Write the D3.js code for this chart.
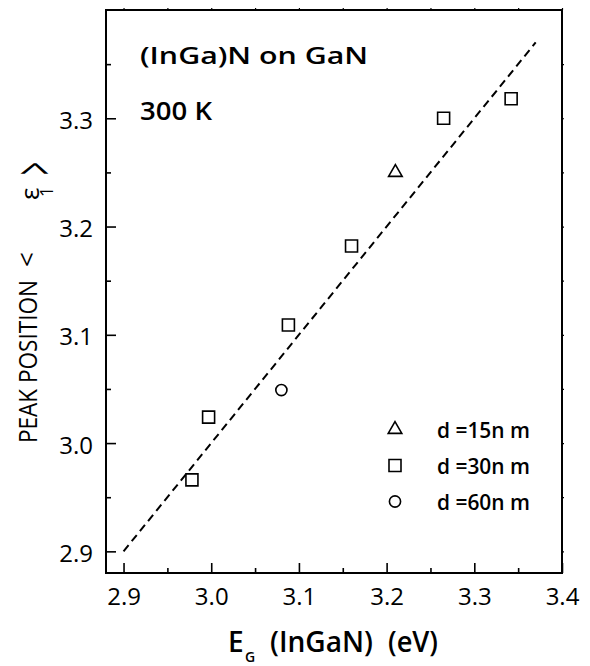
<!DOCTYPE html>
<html>
<head>
<meta charset="utf-8">
<script src="https://cdn.jsdelivr.net/npm/d3@7"></script>
<style>
  html, body { margin: 0; padding: 0; background: #fff; }
  svg { display: block; }
  text { font-family: "Open Sans", "Noto Sans", sans-serif; fill: #000; }
</style>
</head>
<body>
<svg id="chart" width="590" height="666"></svg>
<script>
// ---- data ----
const xTickValues = [2.9, 3.0, 3.1, 3.2, 3.3, 3.4];
const yTickValues = [2.9, 3.0, 3.1, 3.2, 3.3];
const xMinorValues = [2.95, 3.05, 3.15, 3.25, 3.35];
const yMinorValues = [2.95, 3.05, 3.15, 3.25, 3.35];

const d15X = [3.210];
const d15Y = [3.250];
const d30X = [2.978, 2.997, 3.088, 3.160, 3.265, 3.342];
const d30Y = [2.966, 3.024, 3.109, 3.182, 3.300, 3.318];
const d60X = [3.080];
const d60Y = [3.049];

const fitX = [2.9, 3.37];
const fitY = [2.9, 3.37];

const legendLabels = ["d =15n m", "d =30n m", "d =60n m"];
const legendSymbols = ["triangle", "square", "circle"];

// ---- layout ----
const svg = d3.select("#chart");
const L = 106, R = 562, T = 10, B = 573;
const x = d3.scaleLinear().domain([2.88, 3.4]).range([L, R]);
const y = d3.scaleLinear().domain([2.88, 3.4]).range([B, T]);
const fmt = d3.format(".1f");

const symGen = {
  triangle: d3.symbol().type(d3.symbolTriangle).size(80),
  square: d3.symbol().type(d3.symbolSquare).size(144),
  circle: d3.symbol().type(d3.symbolCircle).size(98)
};

// bottom axis
const gx = svg.append("g").attr("transform", `translate(0,${B})`)
  .call(d3.axisBottom(x).tickValues(xTickValues).tickFormat(fmt)
        .tickSizeInner(-10).tickSizeOuter(0).tickPadding(15));
gx.select(".domain").remove();
gx.selectAll(".tick line").attr("stroke", "#000").attr("stroke-width", 1.6);
gx.selectAll(".tick text").attr("font-size", 24).attr("font-weight", 500).attr("dy", "0.71em");
const gxm = svg.append("g").attr("transform", `translate(0,${B})`)
  .call(d3.axisBottom(x).tickValues(xMinorValues).tickFormat("")
        .tickSizeInner(-5).tickSizeOuter(0));
gxm.select(".domain").remove();
gxm.selectAll(".tick line").attr("stroke", "#000").attr("stroke-width", 1.6);

// left axis
const gy = svg.append("g").attr("transform", `translate(${L},0)`)
  .call(d3.axisLeft(y).tickValues(yTickValues).tickFormat(fmt)
        .tickSizeInner(-10).tickSizeOuter(0).tickPadding(13));
gy.select(".domain").remove();
gy.selectAll(".tick line").attr("stroke", "#000").attr("stroke-width", 1.6);
gy.selectAll(".tick text").attr("font-size", 24).attr("font-weight", 500).attr("dy", "0.42em");
const gym = svg.append("g").attr("transform", `translate(${L},0)`)
  .call(d3.axisLeft(y).tickValues(yMinorValues).tickFormat("")
        .tickSizeInner(-5).tickSizeOuter(0));
gym.select(".domain").remove();
gym.selectAll(".tick line").attr("stroke", "#000").attr("stroke-width", 1.6);

// top and right small ticks
const gt = svg.append("g").attr("transform", `translate(0,${T})`)
  .call(d3.axisTop(x).tickValues(xTickValues.concat(xMinorValues)).tickFormat("")
        .tickSizeInner(2).tickSizeOuter(0));
gt.select(".domain").remove();
gt.selectAll(".tick line").attr("stroke", "#000").attr("stroke-width", 1.2);
const gr = svg.append("g").attr("transform", `translate(${R},0)`)
  .call(d3.axisRight(y).tickValues(yTickValues.concat(yMinorValues)).tickFormat("")
        .tickSizeInner(2).tickSizeOuter(0));
gr.select(".domain").remove();
gr.selectAll(".tick line").attr("stroke", "#000").attr("stroke-width", 1.2);

// frame
svg.append("rect").attr("x", L).attr("y", T).attr("width", R - L).attr("height", B - T)
  .attr("fill", "none").attr("stroke", "#000").attr("stroke-width", 2);

// fit line
svg.append("path")
  .datum(fitX.map((v, i) => [v, fitY[i]]))
  .attr("d", d3.line().x(d => x(d[0])).y(d => y(d[1])))
  .attr("fill", "none").attr("stroke", "#000").attr("stroke-width", 2)
  .attr("stroke-dasharray", "8,5");

// data points
function drawSeries(xs, ys, kind) {
  svg.append("g").selectAll("path")
    .data(xs.map((v, i) => [v, ys[i]]))
    .join("path")
    .attr("transform", d => `translate(${x(d[0])},${y(d[1])})`)
    .attr("d", symGen[kind]())
    .attr("fill", "#fff").attr("stroke", "#000").attr("stroke-width", 1.6);
}
drawSeries(d30X, d30Y, "square");
drawSeries(d15X, d15Y, "triangle");
drawSeries(d60X, d60Y, "circle");

// legend
const legY = [429.5, 465.5, 501.5];
legendLabels.forEach((lab, i) => {
  svg.append("path")
    .attr("transform", `translate(395,${legY[i]})`)
    .attr("d", symGen[legendSymbols[i]]())
    .attr("fill", "#fff").attr("stroke", "#000").attr("stroke-width", 1.6);
  svg.append("text").attr("x", 437).attr("y", legY[i] + 8.5)
    .attr("font-size", 21).attr("font-weight", 600)
    .attr("textLength", 93).attr("lengthAdjust", "spacingAndGlyphs")
    .text(lab);
});

// annotations
svg.append("text").attr("x", 140).attr("y", 63.5)
  .attr("font-size", 23).attr("font-weight", 600)
  .attr("textLength", 228).attr("lengthAdjust", "spacingAndGlyphs")
  .text("(InGa)N on GaN");
svg.append("text").attr("x", 140).attr("y", 120)
  .attr("font-size", 25).attr("font-weight", 600)
  .attr("textLength", 72).attr("lengthAdjust", "spacingAndGlyphs")
  .text("300 K");

// x title
svg.append("text").attr("x", 228).attr("y", 652)
  .attr("font-size", 28).attr("font-weight", 600).text("E");
svg.append("text").attr("x", 245).attr("y", 662)
  .attr("font-size", 14).attr("font-weight", 600).text("G");
svg.append("text").attr("x", 270).attr("y", 652)
  .attr("font-size", 28).attr("font-weight", 600)
  .attr("textLength", 103).attr("lengthAdjust", "spacingAndGlyphs")
  .text("(InGaN)");
svg.append("text").attr("x", 388).attr("y", 652)
  .attr("font-size", 28).attr("font-weight", 600)
  .attr("textLength", 50).attr("lengthAdjust", "spacingAndGlyphs")
  .text("(eV)");

// y title
svg.append("text").attr("transform", "translate(36.5,443) rotate(-90)")
  .attr("font-size", 26).attr("font-weight", 500)
  .attr("textLength", 163).attr("lengthAdjust", "spacingAndGlyphs")
  .text("PEAK POSITION");
svg.append("text").attr("transform", "translate(35.5,267) rotate(-90)")
  .attr("font-size", 26).attr("font-weight", 500).text("<");
svg.append("text").attr("transform", "translate(38.5,200) rotate(-90)")
  .attr("font-size", 26).attr("font-weight", 500).text("ε");
svg.append("text").attr("transform", "translate(53,197) rotate(-90)")
  .attr("font-size", 18).attr("font-weight", 500).text("1");
svg.append("text").attr("transform", "translate(55,175) rotate(-90)")
  .attr("font-size", 56).attr("font-weight", 400)
  .attr("textLength", 13).attr("lengthAdjust", "spacingAndGlyphs")
  .text(">");
</script>
</body>
</html>
